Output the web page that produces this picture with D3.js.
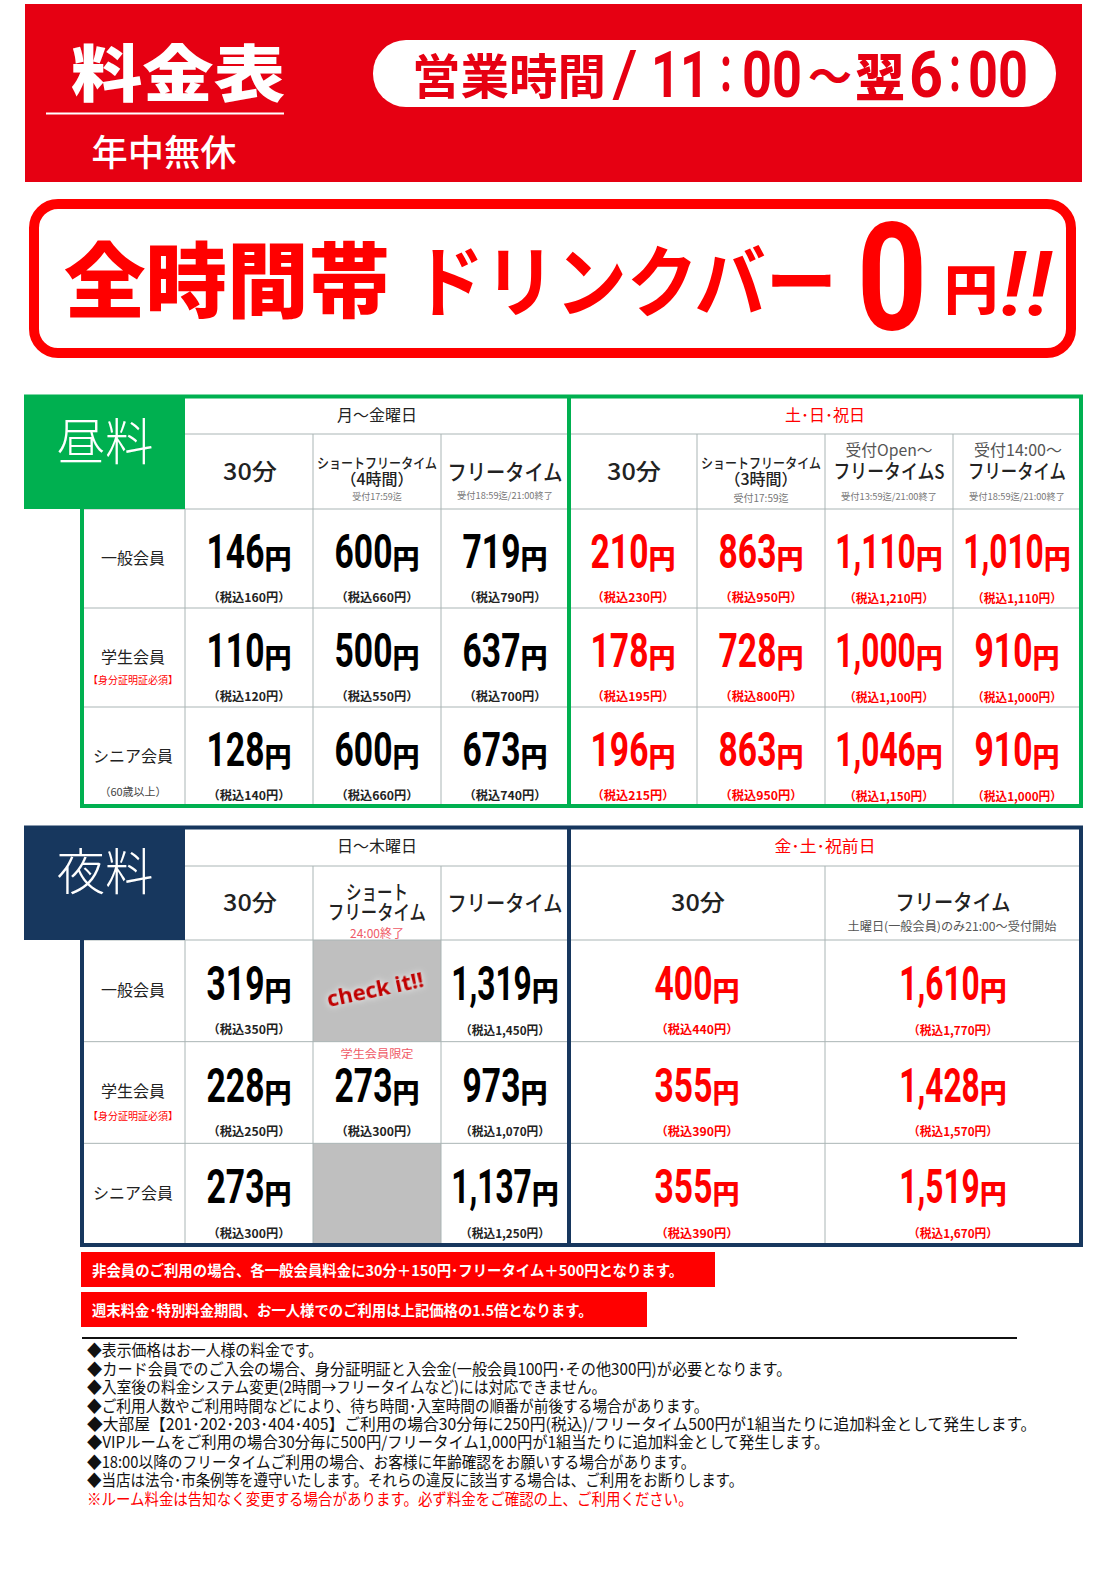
<!DOCTYPE html>
<html lang="ja">
<head>
<meta charset="utf-8">
<style>
  html, body { margin: 0; padding: 0; background: #fff; }
  svg { display: block; }
  text { font-family: "Noto Sans CJK JP", "Noto Sans", sans-serif; }
</style>
<script src="https://cdn.jsdelivr.net/npm/d3@7"></script>
</head>
<body>
<div id="chart"></div>
<script>
// ---- data ----
const members = ["一般会員", "学生会員", "シニア会員"];

const dayPlans = ["30分", "ショート4h", "フリー", "土30分", "ショート3h", "フリーS", "土フリー"];
const dayPrices = [
    [146, 600, 719, 210, 863, 1110, 1010],
    [110, 500, 637, 178, 728, 1000, 910],
    [128, 600, 673, 196, 863, 1046, 910]
];
const dayTaxed = [
    [160, 660, 790, 230, 950, 1210, 1110],
    [120, 550, 700, 195, 800, 1100, 1000],
    [140, 660, 740, 215, 950, 1150, 1000]
];

const nightPlansLeft = ["30分", "ショート", "フリー"];
const nightPlansRight = ["金30分", "金フリー"];
const nightPrices = [
    [319, null, 1319, 400, 1610],
    [228, 273, 973, 355, 1428],
    [273, null, 1137, 355, 1519]
];
const nightTaxed = [
    [350, null, 1450, 440, 1770],
    [250, 300, 1070, 390, 1570],
    [300, null, 1250, 390, 1670]
];

const notes = [
    "◆表示価格はお一人様の料金です。",
    "◆カード会員でのご入会の場合、身分証明証と入会金(一般会員100円･その他300円)が必要となります。",
    "◆入室後の料金システム変更(2時間→フリータイムなど)には対応できません。",
    "◆ご利用人数やご利用時間などにより、待ち時間･入室時間の順番が前後する場合があります。",
    "◆大部屋【201･202･203･404･405】ご利用の場合30分毎に250円(税込)/フリータイム500円が1組当たりに追加料金として発生します。",
    "◆VIPルームをご利用の場合30分毎に500円/フリータイム1,000円が1組当たりに追加料金として発生します。",
    "◆18:00以降のフリータイムご利用の場合、お客様に年齢確認をお願いする場合があります。",
    "◆当店は法令･市条例等を遵守いたします。それらの違反に該当する場合は、ご利用をお断りします。"
];
const warning = "※ルーム料金は告知なく変更する場合があります。必ず料金をご確認の上、ご利用ください。";
const banners = [
    "非会員のご利用の場合、各一般会員料金に30分＋150円･フリータイム＋500円となります。",
    "週末料金･特別料金期間、お一人様でのご利用は上記価格の1.5倍となります。"
];

const RED = "#ff0000", TOPRED = "#e60012", GREEN = "#00b050", NAVY = "#17375e";
const GRID = "#aab5b5", DARK = "#222222", GREY = "#777777", PINK = "#ef5a66";

const svg = d3.select("#chart").append("svg")
    .attr("width", 1108)
    .attr("height", 1569);

// text centred on y; o.w squeezes the run to a given width
function label(x, y, str, o = {}) {
    const t = svg.append("text")
        .attr("text-anchor", o.anchor || "middle")
        .attr("dominant-baseline", o.baseline || "central")
        .attr("font-size", o.size || 16)
        .attr("font-weight", o.weight || 400)
        .attr("fill", o.fill || DARK)
        .text(str);
    if (o.font) t.style("font-family", o.font);
    if (o.style) t.style("font-style", o.style);
    let sx = o.sx || 1;
    if (o.w) sx = o.w / t.node().getComputedTextLength();
    const dy = o.baseline ? 0 : -1;
    t.attr("transform", `translate(${x},${y + dy}) scale(${sx},1)`);
    return t;
}

function hline(y, x1, x2, color, width) {
    svg.append("line").attr("x1", x1).attr("x2", x2).attr("y1", y).attr("y2", y)
        .attr("stroke", color).attr("stroke-width", width);
}
function vline(x, y1, y2, color, width) {
    svg.append("line").attr("x1", x).attr("x2", x).attr("y1", y1).attr("y2", y2)
        .attr("stroke", color).attr("stroke-width", width);
}

// number in condensed digits plus a smaller 円, centred as one unit
function price(cx, baseline, value, color) {
    const g = svg.append("g").attr("transform", `translate(${cx},${baseline})`);
    const num = g.append("text")
        .style("font-family", "Roboto")
        .attr("font-size", 48).attr("font-weight", 700).attr("fill", color)
        .text(d3.format(",")(value));
    const yen = g.append("text")
        .attr("font-size", 27).attr("font-weight", 900).attr("fill", color)
        .text("円");
    const sx = value >= 1000 ? 0.66 : 0.7;
    const nw = num.node().getComputedTextLength() * sx;
    const yw = yen.node().getComputedTextLength();
    const left = -(nw + yw) / 2;
    num.attr("transform", `translate(${left},0) scale(${sx},1)`);
    yen.attr("transform", `translate(${left + nw},1)`);
}

function taxed(cx, y, value, color) {
    label(cx, y, `（税込${d3.format(",")(value)}円）`, { size: 12, weight: 700, fill: color, w: value >= 1000 ? 90 : 83 });
}

// ---- top red block ----
svg.append("rect").attr("x", 25).attr("y", 4).attr("width", 1057).attr("height", 178).attr("fill", TOPRED);
label(178, 71, "料金表", { size: 62, weight: 900, fill: "#fff", w: 214 });
hline(113.5, 46, 284, "#fff", 2);
label(164, 151, "年中無休", { size: 36, weight: 500, fill: "#fff", w: 145 });

svg.append("rect").attr("x", 373).attr("y", 40).attr("width", 683).attr("height", 67).attr("rx", 33).attr("fill", "#fff");
label(509, 74, "営業時間", { size: 48, weight: 700, fill: TOPRED, w: 194 });
label(625, 76, "/", { size: 64, weight: 500, fill: TOPRED, font: "Roboto", w: 25 });
const clock = { size: 64, weight: 700, fill: TOPRED, font: "Roboto", baseline: "alphabetic" };
label(680, 97, "11", { ...clock, w: 58 });
label(726, 91, ":", { ...clock, w: 12 });
label(772, 97, "00", { ...clock, w: 60 });
label(830, 75, "〜", { size: 44, weight: 700, fill: TOPRED, w: 44 });
label(880, 75, "翌", { size: 50, weight: 900, fill: TOPRED });
label(926, 97, "6", { ...clock, w: 34 });
label(955, 91, ":", { ...clock, w: 12 });
label(998, 97, "00", { ...clock, w: 60 });

// ---- drink bar banner ----
svg.append("rect").attr("x", 34).attr("y", 204).attr("width", 1037).attr("height", 149).attr("rx", 24)
    .attr("fill", "#fff").attr("stroke", RED).attr("stroke-width", 10);
label(227, 276, "全時間帯", { size: 82, weight: 900, fill: RED, w: 326 });
label(625, 278, "ドリンクバー", { size: 78, weight: 700, fill: RED, w: 424 });
label(892, 330, "0", { size: 150, weight: 700, fill: RED, font: "Roboto", baseline: "alphabetic", w: 70 });
label(971, 287, "円", { size: 54, weight: 900, fill: RED });
label(1026, 315, "!!", { size: 90, weight: 500, fill: RED, font: "Roboto", style: "italic", baseline: "alphabetic", w: 52 });

// ---- day table ----
const dayX = d3.scaleBand().domain(dayPlans).range([185, 1081]);
const dayY = d3.scaleBand().domain(members).range([509, 806]);

hline(434, 185, 1081, GRID, 1);
hline(509, 82, 1081, GRID, 1);
dayY.domain().slice(1).forEach(m => hline(dayY(m), 82, 1081, GRID, 1));
dayPlans.slice(1).forEach(p => vline(dayX(p), 434, 806, GRID, 1));
vline(185, 509, 806, GRID, 1);

svg.append("rect").attr("x", 24).attr("y", 395).attr("width", 161).attr("height", 114).attr("fill", GREEN);
hline(396.5, 24, 1083, GREEN, 4);
vline(1081, 395, 808, GREEN, 4);
vline(569, 395, 808, GREEN, 4);
vline(82, 509, 808, GREEN, 4);
hline(806, 80, 1083, GREEN, 4);
label(105, 439, "昼料", { size: 50, weight: 300, fill: "#fff", w: 97 });

label(377, 415, "月〜金曜日", { size: 16 });
label(825, 415, "土･日･祝日", { size: 16, fill: RED });

const headW = 115;
label(250, 471, "30分", { size: 23, weight: 500, w: 54 });
label(377, 463, "ショートフリータイム", { size: 14, weight: 500, w: 120 });
label(377, 479, "（4時間）", { size: 16, weight: 500 });
label(377, 497, "受付17:59迄", { size: 9, fill: GREY });
label(505, 471, "フリータイム", { size: 22, weight: 500, w: headW });
label(505, 496, "受付18:59迄/21:00終了", { size: 9.5, fill: GREY, w: 96 });
label(634, 471, "30分", { size: 23, weight: 500, w: 54 });
label(761, 463, "ショートフリータイム", { size: 14, weight: 500, w: 120 });
label(761, 479, "（3時間）", { size: 16, weight: 500 });
label(761, 498, "受付17:59迄", { size: 10, fill: GREY });
label(889, 450, "受付Open〜", { size: 16, fill: "#555", w: 87 });
label(889, 471, "フリータイムS", { size: 20, weight: 500, w: 111 });
label(889, 497, "受付13:59迄/21:00終了", { size: 9.5, fill: GREY, w: 96 });
label(1018, 450, "受付14:00〜", { size: 16, fill: "#555", w: 88 });
label(1017, 471, "フリータイム", { size: 20, weight: 500, w: 98 });
label(1017, 497, "受付18:59迄/21:00終了", { size: 9.5, fill: GREY, w: 96 });

label(133, 558, members[0], { size: 16 });
label(133, 657, members[1], { size: 16 });
label(133, 680, "【身分証明証必須】", { size: 10, fill: RED, w: 90 });
label(133, 756, members[2], { size: 16 });
label(133, 792, "（60歳以上）", { size: 11, fill: "#444" });

members.forEach((m, r) => {
    dayPlans.forEach((p, c) => {
        const cx = dayX(p) + dayX.bandwidth() / 2;
        const color = c >= 3 ? RED : "#000";
        price(cx, dayY(m) + 59, dayPrices[r][c], color);
        taxed(cx, dayY(m) + 89, dayTaxed[r][c], c >= 3 ? RED : DARK);
    });
});

// ---- night table ----
const nightLeft = d3.scaleBand().domain(nightPlansLeft).range([185, 569]);
const nightRight = d3.scaleBand().domain(nightPlansRight).range([569, 1081]);
const nightY = d3.scaleBand().domain(members).range([940, 1245]);
const nightCx = c => c < 3
    ? nightLeft(nightPlansLeft[c]) + nightLeft.bandwidth() / 2
    : nightRight(nightPlansRight[c - 3]) + nightRight.bandwidth() / 2;

// grey cells where a plan has no price
members.forEach((m, r) => {
    if (nightPrices[r][1] === null) {
        svg.append("rect")
            .attr("x", nightLeft(nightPlansLeft[1])).attr("y", nightY(m))
            .attr("width", nightLeft.bandwidth()).attr("height", nightY.bandwidth())
            .attr("fill", "#bfbfbf");
    }
});

hline(866, 185, 1081, GRID, 1);
hline(940, 82, 1081, GRID, 1);
members.slice(1).forEach(m => hline(nightY(m), 82, 1081, GRID, 1));
vline(185, 940, 1245, GRID, 1);
vline(313, 866, 1245, GRID, 1);
vline(441, 866, 1245, GRID, 1);
vline(825, 866, 1245, GRID, 1);

svg.append("rect").attr("x", 24).attr("y", 826).attr("width", 161).attr("height", 114).attr("fill", NAVY);
hline(827.5, 24, 1083, NAVY, 4);
vline(1081, 826, 1247, NAVY, 4);
vline(569, 826, 1247, NAVY, 4);
vline(82, 940, 1247, NAVY, 4);
hline(1245, 80, 1083, NAVY, 4);
label(105, 869, "夜料", { size: 50, weight: 300, fill: "#fff", w: 97 });

label(377, 846, "日〜木曜日", { size: 16 });
label(825, 846, "金･土･祝前日", { size: 16, fill: RED, w: 101 });

label(250, 902, "30分", { size: 23, weight: 500, w: 54 });
label(377, 892, "ショート", { size: 20, weight: 500, w: 62 });
label(377, 912, "フリータイム", { size: 20, weight: 500, w: 98 });
label(377, 933, "24:00終了", { size: 12, fill: PINK });
label(505, 902, "フリータイム", { size: 22, weight: 500, w: headW });
label(698, 902, "30分", { size: 23, weight: 500, w: 54 });
label(953, 901, "フリータイム", { size: 22, weight: 500, w: headW });
label(952, 927, "土曜日(一般会員)のみ21:00〜受付開始", { size: 12, fill: "#555", w: 209 });

label(133, 990, members[0], { size: 16 });
label(133, 1091, members[1], { size: 16 });
label(133, 1116, "【身分証明証必須】", { size: 10, fill: RED, w: 90 });
label(133, 1193, members[2], { size: 16 });

members.forEach((m, r) => {
    nightPrices[r].forEach((v, c) => {
        if (v === null) return;
        const color = c >= 3 ? RED : "#000";
        price(nightCx(c), nightY(m) + 60, v, color);
        taxed(nightCx(c), nightY(m) + 90, nightTaxed[r][c], c >= 3 ? RED : DARK);
    });
});

label(377, 1054, "学生会員限定", { size: 11, fill: PINK, w: 73 });
label(375, 988, "check it!!", { size: 22, weight: 700, fill: "#c00000", font: "Open Sans" })
    .attr("transform", "translate(375,988) rotate(-12)")
    .style("filter", "drop-shadow(0 0 3px #fff)");

// ---- red notes ----
svg.selectAll("rect.banner").data(banners).join("rect")
    .attr("class", "banner")
    .attr("x", 81)
    .attr("y", (d, i) => 1252 + i * 40)
    .attr("width", (d, i) => i === 0 ? 634 : 566)
    .attr("height", 35)
    .attr("fill", RED);
banners.forEach((b, i) => {
    label(92, 1270 + i * 40, b, { size: 15, weight: 700, fill: "#fff", anchor: "start", w: i === 0 ? 592 : 501 });
});

hline(1338, 82, 1017, "#111", 2);

// run widths of the note lines as measured on the sheet
const noteWidths = [236, 705, 520, 622, 950, 743, 609, 657];
notes.forEach((n, i) => {
    label(87, 1350 + i * 18.55, n, { size: 16, fill: "#111", anchor: "start", w: noteWidths[i] });
});
label(87, 1498.5, warning, { size: 16, fill: RED, anchor: "start", w: 606 });
</script>
</body>
</html>
